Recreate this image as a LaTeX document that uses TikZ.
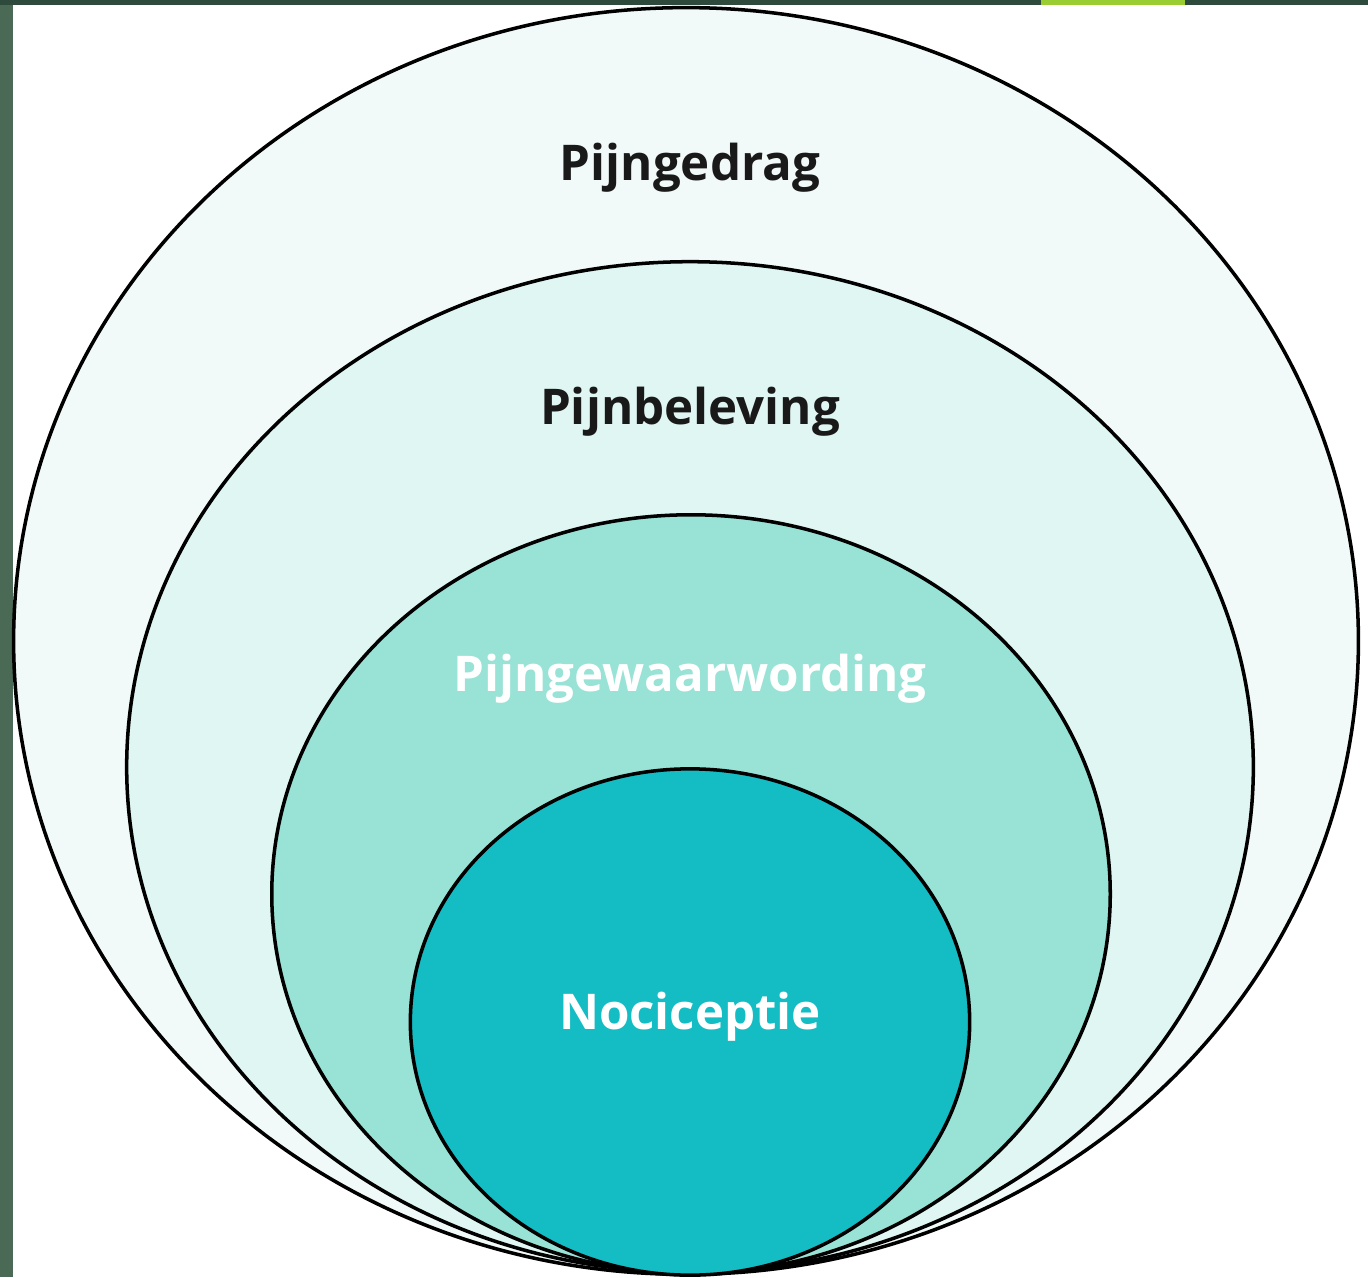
\documentclass[tikz,border=0pt]{standalone}
\usepackage{fontspec}
\setmainfont{Open Sans}
\usetikzlibrary{shapes.geometric}
\definecolor{frame}{HTML}{4A6A55}
\definecolor{framedark}{HTML}{2E4A3D}
\definecolor{lime}{HTML}{9ACD32}
\definecolor{laag1}{HTML}{F1FAF9}
\definecolor{laag2}{HTML}{E0F6F2}
\definecolor{laag3}{HTML}{98E2D6}
\definecolor{laag4}{HTML}{14BCC4}

\begin{document}
\begin{tikzpicture}[x=0.01cm,y=-0.01cm,
    ring/.style={ellipse,draw=black,line width=1pt,inner sep=0pt},
    label/.style={font=\bfseries\fontsize{14}{16}\selectfont,text=black!90}]
    \useasboundingbox (0,0) rectangle (1368,1277);
    \fill[white] (0,0) rectangle (1368,1277);
    \fill[frame] (0,0) rectangle (13,1277);
    \fill[framedark] (0,0) rectangle (1368,5);
    \fill[lime] (1041,0) rectangle (1185,5);
    % nested circles, outside in
    \node[ring,fill=laag1,minimum width=13.44cm,minimum height=12.66cm] (gedrag) at (686,641) {};
    \node[ring,fill=laag2,minimum width=11.26cm,minimum height=10.10cm] (beleving) at (690,767) {};
    \node[ring,fill=laag3,minimum width=8.38cm,minimum height=7.58cm] (gewaarwording) at (691,894) {};
    \node[ring,fill=laag4,minimum width=5.59cm,minimum height=5.06cm] (nociceptie) at (690,1022) {};
    \path (690,168) node[label] (gedragtxt) {Pijngedrag};
    \path (690,412) node[label] (belevingtxt) {Pijnbeleving};
    \path (690,679) node[label,text=white] (gewaarwordingtxt) {Pijngewaarwording};
    \path (690,1017) node[label,text=white] (nociceptietxt) {Nociceptie};
\end{tikzpicture}
\end{document}
